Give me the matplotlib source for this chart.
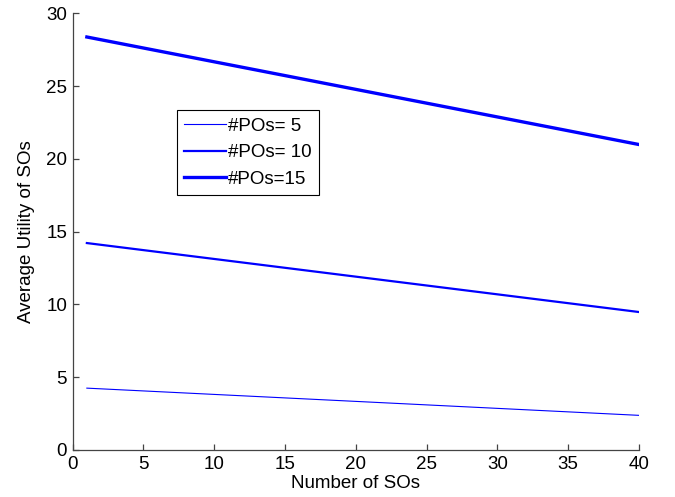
import matplotlib
matplotlib.use("Agg")
import matplotlib.pyplot as plt

plt.rcParams['font.family'] = ['Liberation Sans', 'DejaVu Sans']

n_sos = [1, 40]
util_5 = [4.25, 2.38]
util_10 = [14.22, 9.48]
util_15 = [28.38, 20.99]
labels = ['#POs= 5', '#POs= 10', '#POs=15']

fs = 13.5
fig = plt.figure(figsize=(6.75, 4.97), dpi=100)
ax = fig.add_axes([0.1077, 0.0946, 0.839, 0.8784])

ax.plot(n_sos, util_5, color='#0000ff', lw=0.8, label=labels[0])
ax.plot(n_sos, util_10, color='#0000ff', lw=1.6, label=labels[1])
ax.plot(n_sos, util_15, color='#0000ff', lw=2.4, label=labels[2])

ax.set_xlim(0, 40)
ax.set_ylim(0, 30)
ax.set_xticks(range(0, 41, 5))
ax.set_yticks(range(0, 31, 5))
for s in ['top', 'right']:
    ax.spines[s].set_visible(False)
for s in ['left', 'bottom']:
    ax.spines[s].set_color('#444444')
    ax.spines[s].set_linewidth(0.9)
ax.tick_params(direction='in', length=4, width=0.9, color='#444444',
               labelsize=fs, pad=4)
ax.set_xlabel('Number of SOs', fontsize=fs, labelpad=2)
ax.set_ylabel('Average Utility of SOs', fontsize=fs, labelpad=8)

leg = ax.legend(loc='upper left', bbox_to_anchor=(0.184, 0.778),
                borderaxespad=0, fontsize=fs, fancybox=False,
                edgecolor='black', framealpha=1, handlelength=2.2,
                handletextpad=0.1, labelspacing=0.5, borderpad=0.4)
leg.get_frame().set_linewidth(0.8)

fig.savefig('out.png', dpi=100)
